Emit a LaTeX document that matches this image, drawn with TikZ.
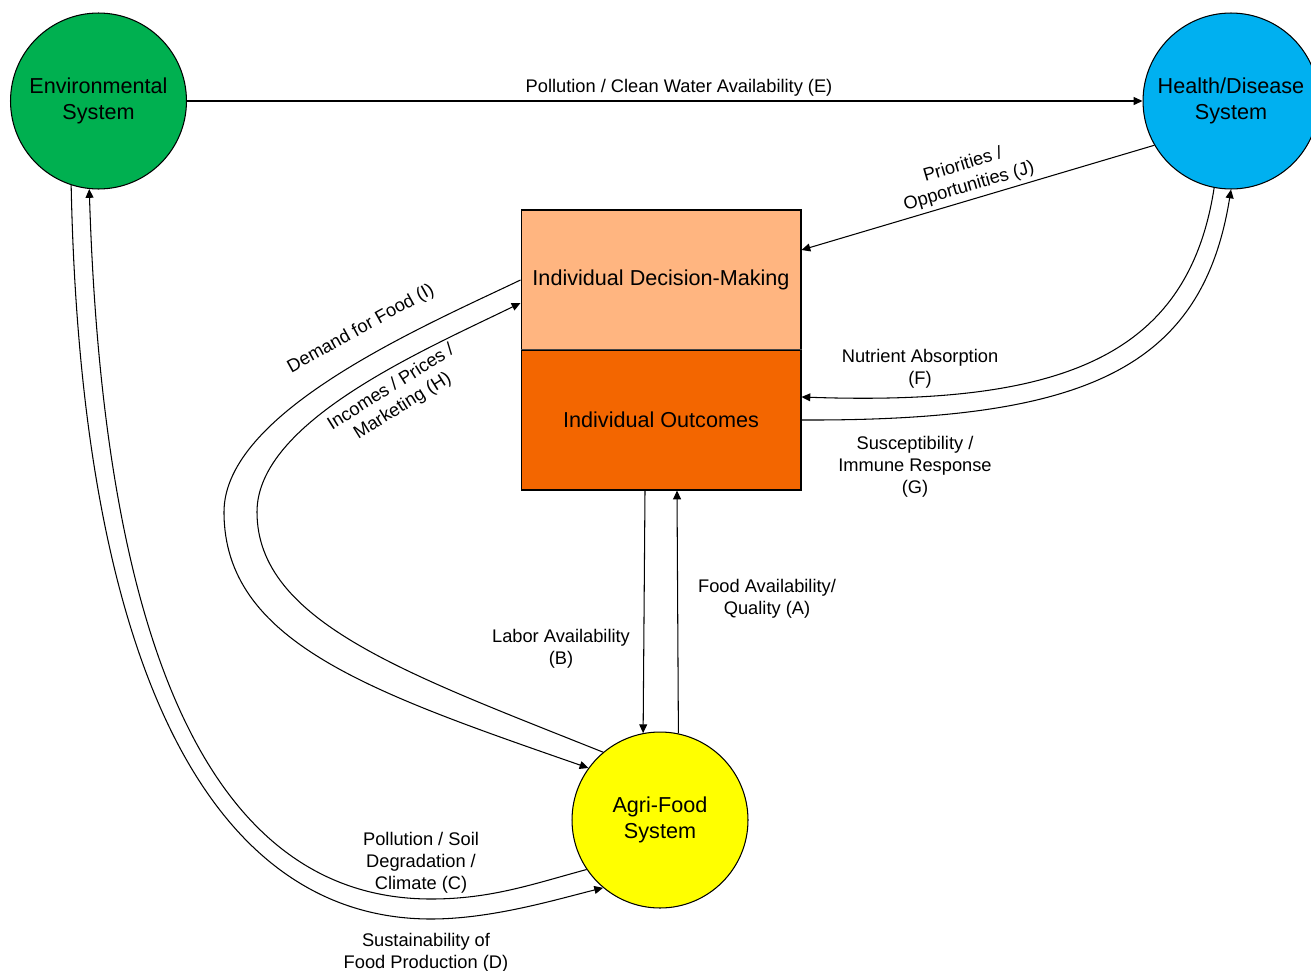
\documentclass[tikz,border=0pt]{standalone}
\usepackage{fontspec}
\setmainfont{Liberation Sans}
\usetikzlibrary{arrows.meta,calc}
\definecolor{envgreen}{RGB}{0,176,80}
\definecolor{hlthblue}{RGB}{0,176,240}
\definecolor{agriyellow}{RGB}{255,255,0}
\definecolor{dmcol}{RGB}{255,181,128}
\definecolor{iocol}{RGB}{243,102,0}
\definecolor{divgray}{RGB}{70,70,70}
\begin{document}
\begin{tikzpicture}[x=0.02cm,y=-0.02cm,
  sysnode/.style={circle,draw=black,line width=0.6pt,minimum size=3.52cm,inner sep=0pt,align=center,font=\fontsize{12.3}{14.8}\selectfont},
  boxnode/.style={rectangle,draw=black,line width=0.6pt,minimum width=5.6cm,minimum height=2.8cm,inner sep=0pt,font=\fontsize{12.3}{14.8}\selectfont},
  conn/.style={line width=0.6pt,-{Triangle[length=5pt,width=4.5pt]}},
  lbl/.style={align=center,font=\fontsize{10.4}{12.5}\selectfont,inner sep=0pt}]
\useasboundingbox (0,0) rectangle (1311,970);
% nodes
\node[sysnode,fill=envgreen] (env) at (98.5,101) {Environmental\\System};
\node[sysnode,fill=hlthblue] (hlth) at (1231,101) {Health/Disease\\System};
\node[sysnode,fill=agriyellow] (agri) at (660,820) {Agri-Food\\System};
\node[boxnode,fill=dmcol] (dm) at (661,280) {Individual Decision-Making};
\node[boxnode,fill=iocol] (io) at (661,420) {Individual Outcomes};
\draw[line width=1pt,draw=divgray] (io.north west) -- (io.north east);
% connectors
\draw[conn] (env.east) -- (hlth.west);
\draw[conn] (hlth.210.6) -- ($(dm.east)+(0,-30)$);
\draw[conn] (hlth.259.7) .. controls (1188,357) and (1062,406) .. ($(io.east)+(0,-23)$);
\draw[conn] (io.east) .. controls (1082,421) and (1202,371) .. (hlth.270);
\draw[conn] (agri.78.9) -- ($(io.south)+(16,0)$);
\draw[conn] ($(io.south)+(-16,0)$) -- (agri.101.1);
\draw[conn] (dm.west) .. controls (422,327) and (224,412) .. (224,512) .. controls (224,642) and (370,692) .. (agri.144.5);
\draw[conn] (agri.130.9) .. controls (408,674) and (257,622) .. (257,512) .. controls (257,422) and (422,351) .. ($(dm.west)+(0,23)$);
\draw[conn] (env.252.3) .. controls (81,668) and (211,919) .. (431,919) .. controls (491,919) and (554.5,900) .. (agri.230);
\draw[conn] (agri.214.9) .. controls (533,884) and (491,899) .. (431,899) .. controls (216,899) and (104,659) .. (env.264);
% labels
\node[lbl] (lE) at (679,88) {Pollution / Clean Water Availability (E)};
\node[lbl,rotate=16.4] (lJ) at (966,176) {Priorities /\\Opportunities (J)};
\node[lbl,rotate=29] (lI) at (361,329) {Demand for Food (I)};
\node[lbl,rotate=32] (lH) at (397,397) {Incomes / Prices /\\Marketing (H)};
\node[lbl] (lF) at (920,369) {Nutrient Absorption\\(F)};
\node[lbl] (lG) at (915,467) {Susceptibility /\\Immune Response\\(G)};
\node[lbl] (lA) at (767,599) {Food Availability/\\Quality (A)};
\node[lbl] (lB) at (561,649) {Labor Availability\\(B)};
\node[lbl] (lC) at (421,863) {Pollution / Soil\\Degradation /\\Climate (C)};
\node[lbl] (lD) at (426,953) {Sustainability of\\Food Production (D)};
\end{tikzpicture}
\end{document}
